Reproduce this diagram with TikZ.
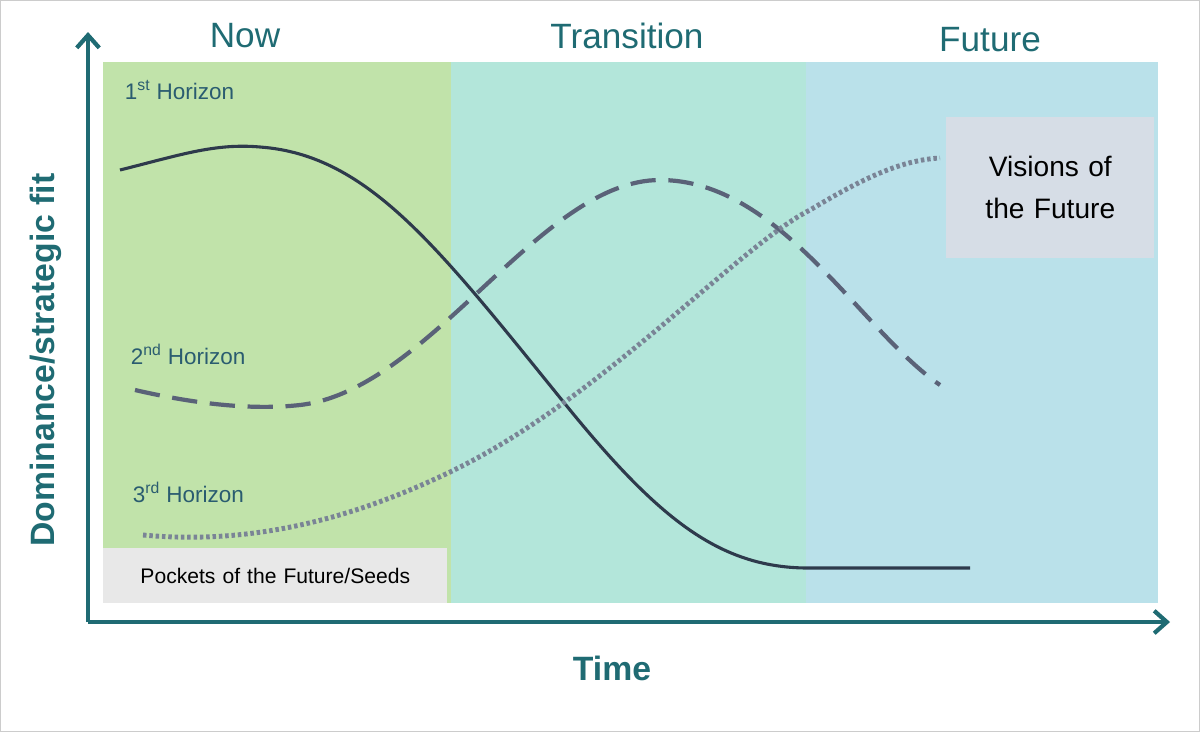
\documentclass[tikz,border=0pt]{standalone}
\usepackage{fontspec}
\setmainfont{Liberation Sans}
\usetikzlibrary{arrows.meta}
\definecolor{axisteal}{HTML}{1F6B73}
\definecolor{nowgreen}{HTML}{C1E3AA}
\definecolor{transteal}{HTML}{B3E6DA}
\definecolor{futblue}{HTML}{BAE1EA}
\definecolor{curvedark}{HTML}{2E3A4C}
\definecolor{curvemid}{HTML}{5A6278}
\definecolor{curvelight}{HTML}{7A8496}
\definecolor{horizontext}{HTML}{2A5C70}
\begin{document}
\begin{tikzpicture}[x=0.025cm, y=-0.025cm,
  phase/.style={text=axisteal, font=\fontsize{25}{30}\selectfont},
  horizon/.style={text=horizontext, font=\fontsize{16}{19}\selectfont, anchor=west},
  axis/.style={draw=axisteal, line width=3pt, -{Straight Barb[length=9pt,width=16pt]}},
  axislabel/.style={text=axisteal, font=\bfseries\fontsize{24}{28}\selectfont},
  curve/.style={line width=2.2pt}]
  \useasboundingbox (0,0) rectangle (1200,732);
  \draw[gray!40, line width=0.8pt] (0.5,0.5) rectangle (1199.5,731.5);

  % phases
  \fill[nowgreen] (103,62) rectangle (451,603);
  \fill[transteal] (451,62) rectangle (806,603);
  \fill[futblue] (806,62) rectangle (1158,603);

  % axes
  \coordinate (origin) at (88,622);
  \coordinate (ytop) at (88,32);
  \coordinate (xend) at (1170,622);
  \draw[axis] (origin) -- (ytop);
  \draw[axis] (origin) -- (xend);

  \node[phase] (now)   at (245,36) {Now};
  \node[phase] (trans) at (627,36) {Transition};
  \node[phase] (fut)   at (990,40) {Future};
  \node[axislabel] (time) at (612,668) {Time};
  \node[axislabel, rotate=90] (dom) at (46,360) {Dominance/strategic fit};

  % horizon curves
  \draw[curvedark, curve] (120,170) .. controls (180,155) and (215,143) .. (260,147)
    .. controls (370,155) and (440,250) .. (570,410)
    .. controls (660,520) and (720,567) .. (806,568) -- (970,568);
  \draw[curvemid, curve, line width=3pt, dash pattern=on 18pt off 9pt]
    (135,390) .. controls (200,405) and (255,410) .. (300,405)
    .. controls (430,390) and (540,180) .. (660,180)
    .. controls (780,180) and (860,330) .. (940,385);
  \draw[curvelight, curve, line width=3.5pt, dash pattern=on 2.5pt off 2pt]
    (143,535) .. controls (250,545) and (350,520) .. (450,472)
    .. controls (600,400) and (740,245) .. (810,210)
    .. controls (860,180) and (900,160) .. (940,158);

  \node[horizon] (h1) at (120,90)  {1\textsuperscript{st} Horizon};
  \node[horizon] (h2) at (126,354) {2\textsuperscript{nd} Horizon};
  \node[horizon] (h3) at (128,492) {3\textsuperscript{rd} Horizon};

  % boxes
  \node[fill=gray!18, text width=8.6cm, minimum height=1.375cm,
    anchor=north west, inner sep=0pt, align=center, font=\fontsize{15}{18}\selectfont]
    (pockets) at (103,548) {Pockets of the Future/Seeds};
  \node[fill={rgb,255:red,214;green,221;blue,230}, text width=5.2cm, minimum height=3.525cm,
    anchor=north west, inner sep=0pt, align=center, font=\fontsize{20}{30}\selectfont]
    (visions) at (946,117) {Visions of\\the Future};
\end{tikzpicture}
\end{document}
